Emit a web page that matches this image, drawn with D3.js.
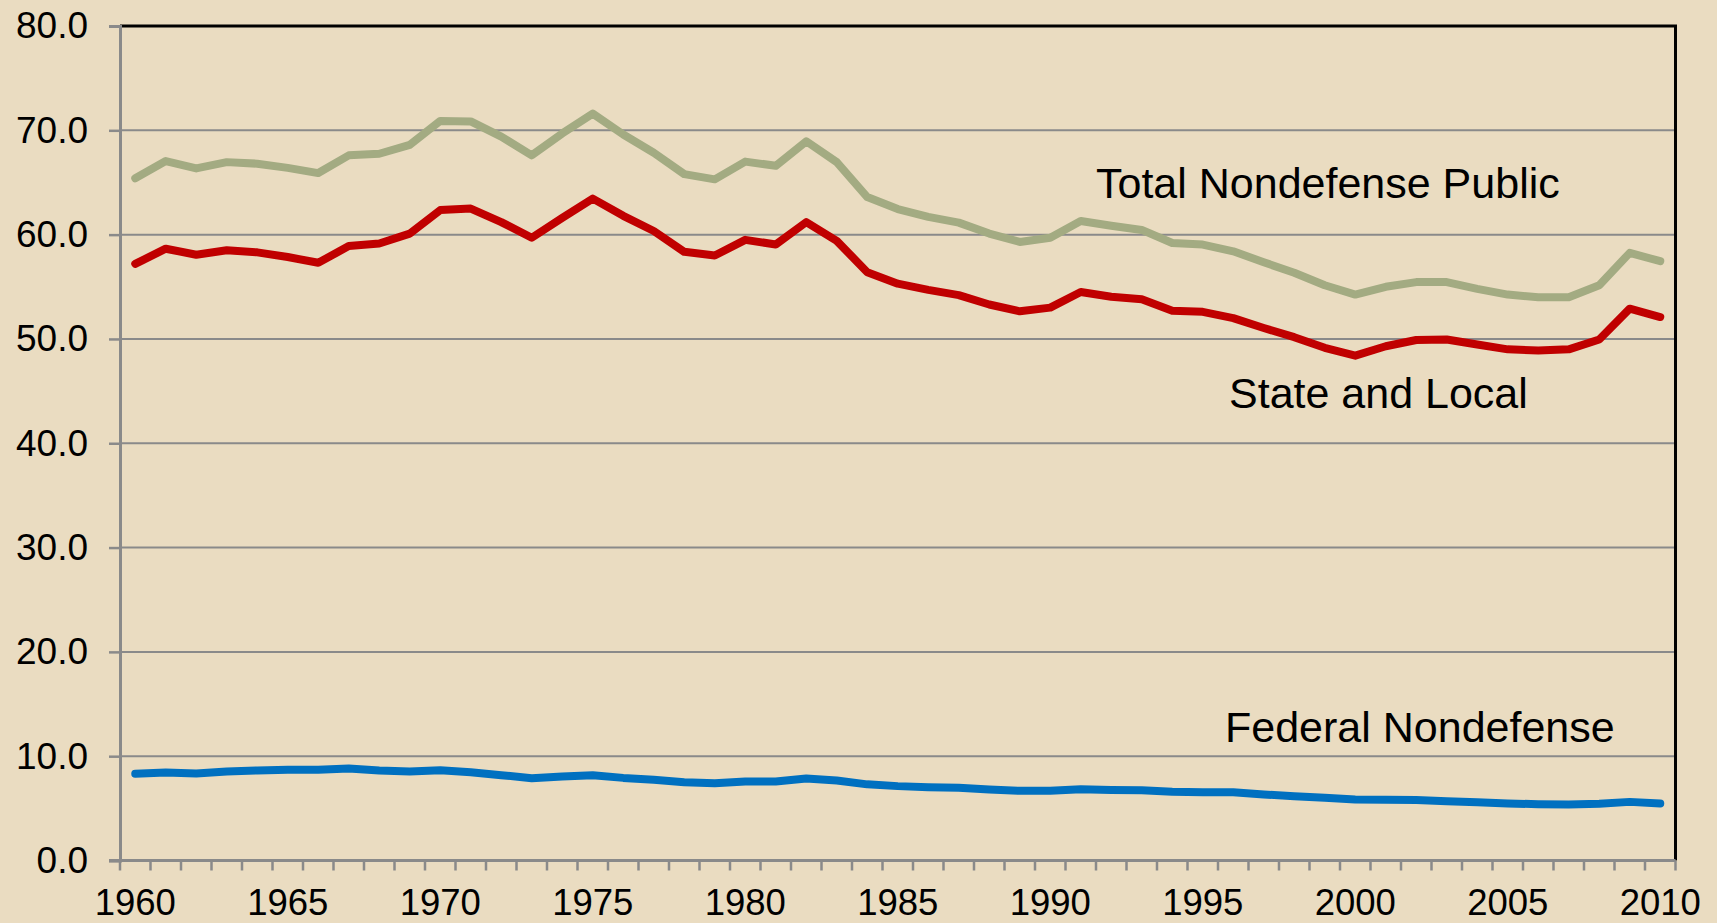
<!DOCTYPE html>
<html>
<head>
<meta charset="utf-8">
<script src="https://cdn.jsdelivr.net/npm/d3@7"></script>
<style>
  html, body { margin: 0; padding: 0; background: #EADCC1; }
  svg { display: block; }
  text { font-family: "Liberation Sans", Arial, sans-serif; fill: #000; }
</style>
</head>
<body>
<svg id="chart" width="1717" height="923"></svg>
<script>
const years = d3.range(1960, 2011);
const yTicks = [0, 10, 20, 30, 40, 50, 60, 70, 80];
const xLabelYears = [1960, 1965, 1970, 1975, 1980, 1985, 1990, 1995, 2000, 2005, 2010];

const totalNondefense = [
  65.4, 67.05, 66.35, 66.95, 66.8, 66.4, 65.9, 67.6, 67.75, 68.6,
  70.9, 70.85, 69.4, 67.6, 69.7, 71.6, 69.6, 67.85, 65.8, 65.3,
  67.0, 66.6, 68.95, 66.95, 63.6, 62.45, 61.7, 61.15, 60.1, 59.3,
  59.7, 61.3, 60.85, 60.45, 59.2, 59.05, 58.4, 57.35, 56.35, 55.15,
  54.25, 55.0, 55.45, 55.45, 54.8, 54.25, 54.0, 54.0, 55.15, 58.25, 57.45
];
const stateLocal = [
  57.2, 58.65, 58.07, 58.5, 58.3, 57.85, 57.3, 58.9, 59.15, 60.1,
  62.35, 62.5, 61.2, 59.7, 61.6, 63.45, 61.8, 60.35, 58.35, 58.0,
  59.5, 59.05, 61.2, 59.4, 56.4, 55.3, 54.7, 54.2, 53.3, 52.65,
  53.0, 54.5, 54.05, 53.8, 52.7, 52.6, 52.0, 51.05, 50.17, 49.15,
  48.4, 49.3, 49.9, 49.95, 49.47, 49.0, 48.9, 49.0, 49.95, 52.9, 52.1
];
const federalNondefense = [
  8.31, 8.44, 8.34, 8.53, 8.63, 8.69, 8.69, 8.82, 8.63, 8.53,
  8.66, 8.47, 8.18, 7.89, 8.05, 8.18, 7.92, 7.73, 7.51, 7.41,
  7.57, 7.57, 7.86, 7.67, 7.3, 7.13, 7.03, 6.97, 6.81, 6.68,
  6.68, 6.84, 6.77, 6.74, 6.58, 6.55, 6.55, 6.33, 6.17, 6.01,
  5.85, 5.82, 5.79, 5.69, 5.59, 5.47, 5.4, 5.37, 5.43, 5.62, 5.47
];
const seriesNames = ["Total Nondefense Public", "State and Local", "Federal Nondefense"];

const svg = d3.select("#chart");
const L = 120, R = 1675.5, T = 26, B = 860.5;

svg.append("rect").attr("width", 1717).attr("height", 923).attr("fill", "#EADCC1");

const x = d3.scaleBand().domain(years).range([L, R]).paddingInner(0).paddingOuter(0);
const y = d3.scaleLinear().domain([0, 80]).range([B, T]);
const cx = yr => x(yr) + x.bandwidth() / 2;

// gridlines
svg.append("g").selectAll("line")
  .data(yTicks.filter(v => v > 0 && v < 80))
  .join("line")
  .attr("x1", L).attr("x2", R)
  .attr("y1", d => y(d)).attr("y2", d => y(d))
  .attr("stroke", "#8A8A8A").attr("stroke-width", 2);

// plot border top/right (black)
svg.append("path")
  .attr("d", `M${L},${y(80)}H${R}V${B}`)
  .attr("fill", "none").attr("stroke", "#000").attr("stroke-width", 3);

// y axis
const yAxis = d3.axisLeft(y).tickValues(yTicks).tickSize(11).tickPadding(21)
  .tickFormat(d3.format(".1f"));
const gy = svg.append("g").attr("transform", `translate(${L},0)`).call(yAxis);
gy.select(".domain").attr("stroke", "#8A8A8A").attr("stroke-width", 3);
gy.selectAll(".tick line").attr("stroke", "#8A8A8A").attr("stroke-width", 2.5);
gy.selectAll(".tick text").attr("font-size", 37).attr("font-family", "Liberation Sans, Arial, sans-serif").attr("fill", "#000");

// x axis: ticks on category boundaries, labels every 5 years
const boundaries = years.map(yr => x(yr)).concat([R]);
const gx = svg.append("g");
gx.append("line").attr("x1", L - 11).attr("x2", R).attr("y1", B).attr("y2", B)
  .attr("stroke", "#8A8A8A").attr("stroke-width", 3);
gx.selectAll("line.tk").data(boundaries).join("line").attr("class", "tk")
  .attr("x1", d => d).attr("x2", d => d).attr("y1", B).attr("y2", B + 10)
  .attr("stroke", "#8A8A8A").attr("stroke-width", 2.5);
gx.selectAll("text").data(xLabelYears).join("text")
  .attr("x", d => cx(d)).attr("y", 915)
  .attr("text-anchor", "middle").attr("font-size", 36.5)
  .text(d => d);

// lines
const line = d3.line().x((d, i) => cx(years[i])).y(d => y(d));
const series = [
  { vals: totalNondefense, color: "#A3AB82" },
  { vals: stateLocal, color: "#C00000" },
  { vals: federalNondefense, color: "#0070C0" }
];
svg.append("g").selectAll("path").data(series).join("path")
  .attr("d", d => line(d.vals))
  .attr("fill", "none").attr("stroke", d => d.color)
  .attr("stroke-width", 8).attr("stroke-linejoin", "round").attr("stroke-linecap", "round");

// series labels
const labelPos = [
  { x: 1096, y: 198 },
  { x: 1229, y: 408 },
  { x: 1225, y: 742 }
];
svg.append("g").selectAll("text").data(seriesNames).join("text")
  .attr("x", (d, i) => labelPos[i].x).attr("y", (d, i) => labelPos[i].y)
  .attr("font-size", 43)
  .text(d => d);
</script>
</body>
</html>
